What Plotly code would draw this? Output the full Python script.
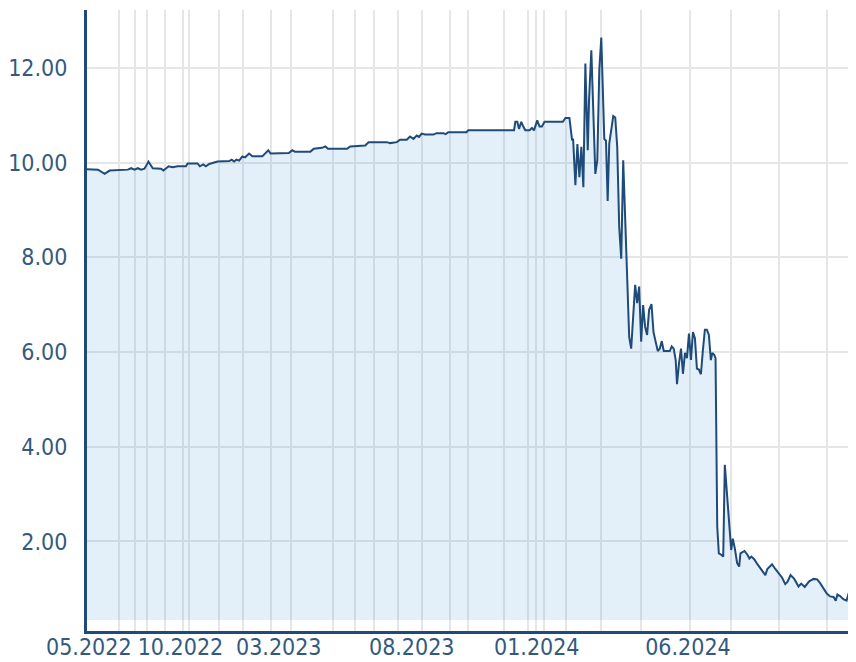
import plotly.graph_objects as go

# x = trading-day index, y = price
trading_day = [0, 11, 17.7, 22.7, 41, 44.3, 47.7, 51, 54.3, 57.7, 61.7, 66, 74.3, 76.7, 82, 86, 91, 99.3,
               101, 111, 113.3, 116.7, 119.3, 122.7, 131, 142.7, 145.3, 147.7, 150, 152.7, 156, 158.7,
               162.7, 166, 176, 178.7, 182, 184.3, 202.7, 206, 208.7, 224.3, 227.7, 236, 239.3, 242,
               261, 264.3, 279.3, 282.7, 301, 304.3, 311, 314.3, 321, 324.3, 327.7, 331, 333.3, 336,
               339.3, 347.7, 351, 357.7, 360, 362.7, 381, 382.7, 428.7, 430, 432, 433.7, 436, 438, 440,
               444.3, 446.7, 448.7, 452, 454.3, 456.7, 459.3, 477.7, 480.3, 484.3,
               487, 488, 490.3, 492.3, 494.3, 496.3, 498.3, 500.3, 502.7, 504, 506.3, 508.3, 510.3,
               512.3, 514.3, 516.3, 517.7, 519.3, 521, 522.7, 524.3, 526.3, 528.3, 530.3, 532.3, 534.3,
               536.3, 538.3, 540.3, 542.3, 544.3, 546.3, 548.3, 550.3, 552.3, 554.3, 556.3, 558.3,
               560.3, 562.3, 564.3, 566.7, 568.7, 571, 573, 575, 577, 579, 585, 587, 589, 591, 592.3,
               594.3, 596.3, 598.3, 600.3, 602.3, 604.3, 606.3, 608.3, 610.3, 612.3, 614.3, 616.3,
               618.3, 620.3, 622.3, 624.3, 626.3, 627.7, 629.7, 631, 632.7, 634.3, 636.7, 638.7, 640.3,
               642.7, 644.7, 646.7, 648.3, 650.3, 652.7, 654.7, 656, 660, 663, 665, 667, 670, 673,
               677.7, 681, 683, 687.7, 691, 694, 697.7, 701, 703.3, 706.3, 710, 714.3, 717, 720.5,
               725, 729.5, 733, 736, 739.5, 742.7, 746, 749.5, 751.7, 753.3, 756, 759.3, 762.5, 765.5]
price = [9.86, 9.85, 9.76, 9.83, 9.85, 9.88, 9.85, 9.88, 9.85, 9.87, 10.02, 9.88, 9.87, 9.83, 9.92,
         9.90, 9.92, 9.92, 9.98, 9.98, 9.92, 9.96, 9.92, 9.97, 10.02, 10.03, 10.06, 10.02, 10.06,
         10.04, 10.13, 10.11, 10.19, 10.13, 10.13, 10.19, 10.26, 10.19, 10.20, 10.26, 10.23, 10.23,
         10.29, 10.31, 10.34, 10.29, 10.29, 10.34, 10.36, 10.43, 10.43, 10.41, 10.43, 10.48, 10.48,
         10.55, 10.50, 10.57, 10.54, 10.61, 10.59, 10.59, 10.62, 10.62, 10.60, 10.64, 10.64, 10.68,
         10.68, 10.86, 10.86, 10.71, 10.86, 10.76, 10.68, 10.68, 10.73, 10.68, 10.89, 10.76, 10.76,
         10.86, 10.86, 10.94, 10.94,
         10.47, 10.50, 9.52, 10.39, 9.69, 10.33, 9.48, 12.09, 10.26, 11.32, 12.37, 10.90, 9.76,
         10.05, 11.95, 12.64, 11.32, 10.50, 10.46, 9.19, 10.40, 10.75, 10.98, 10.95, 10.33, 8.64,
         7.97, 10.05, 8.79, 7.17, 6.32, 6.07, 6.75, 7.42, 7.03, 7.38, 6.22, 6.99, 6.53, 6.36, 6.89,
         7.01, 6.42, 6.18, 6.02, 6.07, 6.23, 6.02, 6.02, 6.12, 6.07, 5.83, 5.32, 5.76, 6.07, 5.54,
         5.98, 5.87, 6.39, 5.83, 6.42, 6.29, 5.65, 5.63, 5.53, 6.04, 6.47, 6.47, 6.36, 5.83, 5.98,
         5.94, 5.87, 2.31, 1.75, 1.72, 1.68, 3.62, 2.95, 2.38, 1.82, 2.06, 1.86, 1.54, 1.47, 1.75,
         1.80, 1.72, 1.64, 1.68, 1.62, 1.52, 1.38, 1.29, 1.42, 1.52, 1.42, 1.33, 1.24, 1.10, 1.15,
         1.29, 1.21, 1.05, 1.11, 1.04, 1.16, 1.21, 1.20, 1.12, 1.01, 0.90, 0.84, 0.83, 0.75, 0.88,
         0.85, 0.78, 0.75, 0.97]

grid_days = [32, 48, 60, 78.5, 96, 102.5, 132.5, 156.5, 184.5, 204.5, 246.5, 269, 288.5, 312.5,
             336.5, 364, 382.5, 418.5, 443, 450.5, 458.5, 480.5, 516.5, 556.5, 605, 647, 695, 743]
label_days = [1.8, 93.8, 192.5, 326, 451.5, 603.3]
label_text = ["05.2022", "10.2022", "03.2023", "08.2023", "01.2024", "06.2024"]
y_ticks = [2, 4, 6, 8, 10, 12]
x_range = [0, 772]
y_range = [0.11, 13.22]
fill_base = 0.34

NAVY = "#1f4b7a"
TXT = "#34597e"
GRID = "#e6e6e6"
FONT = "DejaVu Sans Condensed, DejaVu Sans, sans-serif"

fig = go.Figure()
fig.add_trace(go.Scatter(x=[trading_day[0], trading_day[-1]], y=[fill_base, fill_base],
                         mode="lines", line=dict(width=0, color="rgba(0,0,0,0)"),
                         hoverinfo="skip", showlegend=False))
fig.add_trace(go.Scatter(x=trading_day, y=price, mode="lines", fill="tonexty",
                         fillcolor="rgba(68,148,215,0.15)",
                         line=dict(color=NAVY, width=2), showlegend=False))
# empty trace on label axis
fig.add_trace(go.Scatter(x=[], y=[], xaxis="x2", showlegend=False))

# page body has an 8px default margin, so the figure is sized/margined to compensate
fig.update_layout(
    width=848, height=654,
    margin=dict(l=76, r=0, t=2, b=31),
    paper_bgcolor="white", plot_bgcolor="white",
    font=dict(family=FONT, size=23, color=TXT),
    xaxis=dict(range=x_range, tickmode="array", tickvals=grid_days, showticklabels=False,
               showgrid=True, gridcolor=GRID, gridwidth=2, zeroline=False,
               showline=True, linecolor=NAVY, linewidth=2.5, ticks=""),
    xaxis2=dict(range=x_range, overlaying="x", anchor="y", side="bottom", tickmode="array",
                tickvals=label_days, ticktext=label_text, showgrid=False, zeroline=False,
                showline=False, ticks="", tickfont=dict(family=FONT, size=23, color=TXT)),
    yaxis=dict(range=y_range, tickmode="array", tickvals=y_ticks, tickformat=".2f",
               showgrid=True, gridcolor=GRID, gridwidth=2, zeroline=False,
               showline=True, linecolor=NAVY, linewidth=3, ticks="", ticklabelstandoff=12,
               tickfont=dict(family=FONT, size=23, color=TXT)),
)
fig.write_html("out.html")
